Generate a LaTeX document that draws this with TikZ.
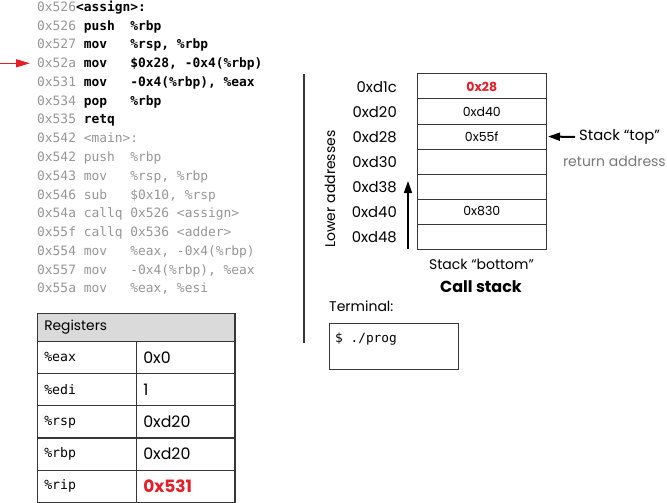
\documentclass[tikz,border=0pt]{standalone}
\usepackage{fontspec}
\setmainfont{Poppins}
\newfontfamily\codefont{DejaVu Sans Mono}
\usetikzlibrary{arrows.meta}
\definecolor{redx}{RGB}{230,30,40}
\definecolor{addrgray}{RGB}{150,150,150}
\definecolor{retgray}{RGB}{120,120,120}
\definecolor{linegray}{RGB}{55,55,55}
\definecolor{hdrgray}{RGB}{218,218,218}
\newcommand{\ad}[1]{\textcolor{addrgray}{#1}}
\tikzset{
  codeline/.style={anchor=base west, inner sep=0pt, font=\codefont\fontsize{12.9}{14}\selectfont},
  graycode/.style={codeline, text=addrgray},
  stackcell/.style={draw=linegray, line width=1pt, minimum width=128.5pt, minimum height=25pt, inner sep=0pt, font=\fontsize{12.5}{13}\selectfont},
  addrlbl/.style={anchor=east, inner sep=0pt, font=\fontsize{14.8}{15}\selectfont},
  sanslbl/.style={inner sep=0pt, font=\fontsize{14}{15}\selectfont},
  regname/.style={draw=linegray, line width=1.2pt, anchor=north west, minimum width=99pt, minimum height=32.2pt, text width=85pt, inner xsep=7pt, inner ysep=0pt, align=left, font=\codefont\fontsize{13.2}{14}\selectfont},
  regval/.style={draw=linegray, line width=1.2pt, anchor=north west, minimum width=98.6pt, minimum height=32.2pt, text width=84.6pt, inner xsep=7pt, inner ysep=0pt, align=left, font=\fontsize{15.8}{16}\selectfont},
  reghdr/.style={draw=linegray, line width=1.2pt, fill=hdrgray, anchor=north west, minimum width=197.6pt, minimum height=28pt, text width=183.6pt, inner xsep=7pt, inner ysep=0pt, align=left, font=\fontsize{13.8}{14}\selectfont},
  termbox/.style={draw=linegray, line width=1pt, anchor=north west, minimum width=129pt, minimum height=46pt, inner sep=0pt},
  redarrow/.style={draw=redx, line width=1.3pt, -{Triangle[length=14pt,width=8pt]}},
  blackarrow/.style={draw=black, line width=1.5pt, -{Triangle[length=12pt,width=8pt]}},
}
\begin{document}
\begin{tikzpicture}[x=1pt,y=-1pt]
\useasboundingbox (0,0) rectangle (667,503);
% code listing
\node[codeline] (l0)  at (37,11.5)   {\ad{0x526}\textbf{<assign>:}};
\node[codeline] (l1)  at (37,30.25)  {\ad{0x526}~\textbf{push~~\%rbp}};
\node[codeline] (l2)  at (37,49)     {\ad{0x527}~\textbf{mov~~~\%rsp,~\%rbp}};
\node[codeline] (l3)  at (37,67.75)  {\ad{0x52a}~\textbf{mov~~~\$0x28,~-0x4(\%rbp)}};
\node[codeline] (l4)  at (37,86.5)   {\ad{0x531}~\textbf{mov~~~-0x4(\%rbp),~\%eax}};
\node[codeline] (l5)  at (37,105.25) {\ad{0x534}~\textbf{pop~~~\%rbp}};
\node[codeline] (l6)  at (37,124)    {\ad{0x535}~\textbf{retq}};
\node[graycode] (l7)  at (37,142.75) {0x542~<main>:};
\node[graycode] (l8)  at (37,161.5)  {0x542~push~~\%rbp};
\node[graycode] (l9)  at (37,180.25) {0x543~mov~~~\%rsp,~\%rbp};
\node[graycode] (l10) at (37,199)    {0x546~sub~~~\$0x10,~\%rsp};
\node[graycode] (l11) at (37,217.75) {0x54a~callq~0x526~<assign>};
\node[graycode] (l12) at (37,236.5)  {0x55f~callq~0x536~<adder>};
\node[graycode] (l13) at (37,255.25) {0x554~mov~~~\%eax,~-0x4(\%rbp)};
\node[graycode] (l14) at (37,274)    {0x557~mov~~~-0x4(\%rbp),~\%eax};
\node[graycode] (l15) at (37,292.75) {0x55a~mov~~~\%eax,~\%esi};
\coordinate (ra) at (0,63.3);
\coordinate (rb) at (30,63.3);
\draw[redarrow] (ra) -- (rb);
% separator
\coordinate (sepT) at (304,74);
\coordinate (sepB) at (304,343);
\draw[linegray, line width=1.3pt] (sepT) -- (sepB);
% stack
\node[stackcell, text=redx, font=\fontsize{12.5}{13}\selectfont\bfseries] (s0) at (481.75,86.5) {0x28};
\node[stackcell] (s1) at (481.75,111.5) {0xd40};
\node[stackcell] (s2) at (481.75,136.5) {0x55f};
\node[stackcell] (s3) at (481.75,161.5) {};
\node[stackcell] (s4) at (481.75,186.5) {};
\node[stackcell] (s5) at (481.75,211.5) {0x830};
\node[stackcell] (s6) at (481.75,236.5) {};
\node[addrlbl] (a0) at (397,87)  {0xd1c};
\node[addrlbl] (a1) at (397,112) {0xd20};
\node[addrlbl] (a2) at (397,137) {0xd28};
\node[addrlbl] (a3) at (397,162) {0xd30};
\node[addrlbl] (a4) at (397,187) {0xd38};
\node[addrlbl] (a5) at (397,212) {0xd40};
\node[addrlbl] (a6) at (397,237) {0xd48};
\coordinate (upB) at (408,248.5);
\coordinate (upT) at (408,181);
\draw[blackarrow] (upB) -- (upT);
\node[sanslbl, rotate=90] (lower) at (330,189) {Lower addresses};
\node[sanslbl, anchor=west, font=\fontsize{14.8}{15}\selectfont] (top) at (579,137) {Stack “top”};
\draw[blackarrow, line width=2pt, -{Triangle[length=12pt,width=8pt]}] ([xshift=-4pt]top.west) -- ([xshift=1.5pt]s2.east);
\node[sanslbl, text=retgray, anchor=east] (ret) at (666,161) {return address};
\node[sanslbl] (bottom) at (481.5,264) {Stack “bottom”};
\node[sanslbl, font=\fontsize{16}{17}\selectfont\bfseries] (callstack) at (481,287) {Call stack};
% terminal
\node[sanslbl, anchor=west] (termlbl) at (329,306) {Terminal:};
\node[termbox] (term) at (329.3,323.3) {};
\node[codeline, font=\codefont\fontsize{12.8}{14}\selectfont] (cmd) at (335,342.5) {\$~./prog};
% registers
\node[reghdr] (rh) at (36.7,312.7) {Registers};
\node[regname] (n1) at (36.7,340.7) {\%eax};
\node[regval]  (v1) at (135.7,340.7) {0x0};
\node[regname] (n2) at (36.7,372.9) {\%edi};
\node[regval]  (v2) at (135.7,372.9) {1};
\node[regname] (n3) at (36.7,405.1) {\%rsp};
\node[regval]  (v3) at (135.7,405.1) {0xd20};
\node[regname] (n4) at (36.7,437.3) {\%rbp};
\node[regval]  (v4) at (135.7,437.3) {0xd20};
\node[regname] (n5) at (36.7,469.5) {\%rip};
\node[regval, text=redx, font=\fontsize{17}{18}\selectfont\bfseries] (v5) at (135.7,469.5) {0x531};
\end{tikzpicture}
\end{document}
